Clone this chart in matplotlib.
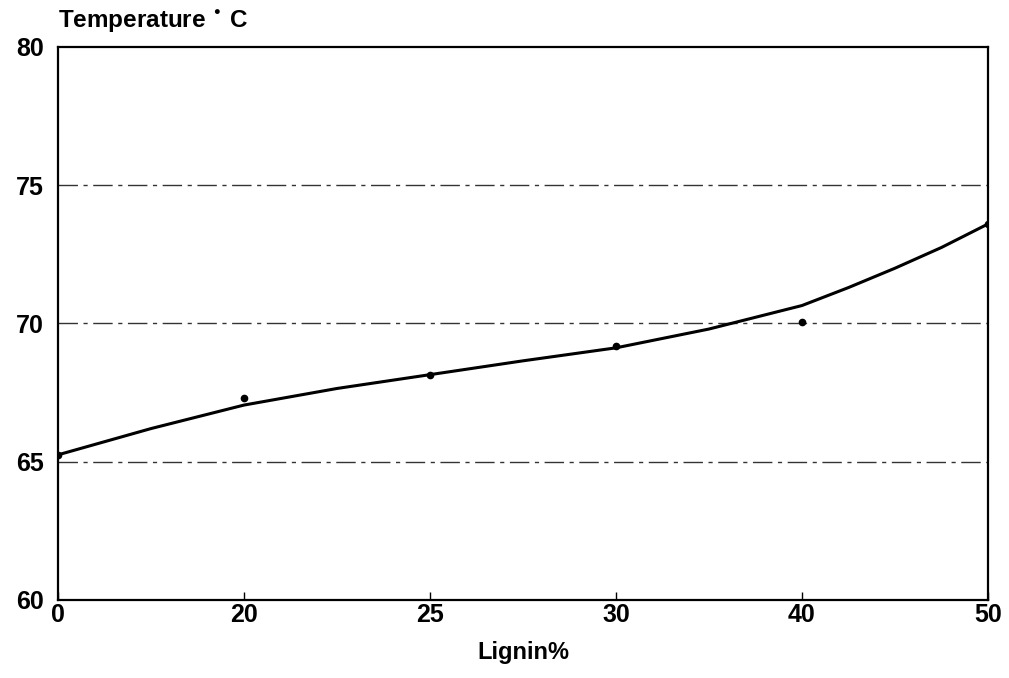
import matplotlib
matplotlib.use("Agg")
import matplotlib.pyplot as plt

# Data
categories = ["0", "20", "25", "30", "40", "50"]
points = [65.25, 67.3, 68.15, 69.17, 70.05, 73.6]
# smooth fitted curve sampled at half-category steps
curve_pos = [0, 0.5, 1, 1.5, 2, 2.5, 3, 3.5, 4, 4.25, 4.5, 4.75, 5]
curve_val = [65.25, 66.2, 67.05, 67.65, 68.15, 68.65, 69.12, 69.8, 70.65, 71.3, 72.0, 72.75, 73.6]
y_ticks = [60, 65, 70, 75, 80]
grid_levels = [65, 70, 75]

plt.rcParams['font.family'] = ['Liberation Sans', 'DejaVu Sans']

fig = plt.figure(figsize=(10.09, 6.78), dpi=100)
ax = fig.add_axes([58 / 1009, 1 - 600 / 678, (988 - 58) / 1009, (600 - 47) / 678])

xpos = list(range(len(categories)))
for g in grid_levels:
    ax.axhline(g, color='black', lw=1.0, linestyle=(0, (14, 4, 3, 4)), alpha=0.8, zorder=1)

ax.plot(curve_pos, curve_val, color='black', lw=2.2, solid_capstyle='round', zorder=3)
ax.plot(xpos, points, 'o', color='black', ms=4.5, zorder=4)

ax.set_xlim(0, len(categories) - 1)
ax.set_ylim(60, 80)
ax.set_xticks(xpos)
ax.set_xticklabels(categories, fontsize=18, fontweight='bold')
ax.set_yticks(y_ticks)
ax.set_yticklabels([str(v) for v in y_ticks], fontsize=18, fontweight='bold')
ax.tick_params(axis='x', direction='in', length=6, width=1, pad=2)
ax.tick_params(axis='y', length=0, pad=10)
for s in ax.spines.values():
    s.set_linewidth(1.6)
    s.set_color('black')

ax.set_xlabel("Lignin%", fontsize=17, fontweight='bold', labelpad=10)
fig.text(58 / 1009, 1 - 22 / 678, r"Temperature $^{\bullet}$ C", fontsize=17.5,
         fontweight='bold', ha='left', va='center')

fig.savefig("out.png", dpi=100)
